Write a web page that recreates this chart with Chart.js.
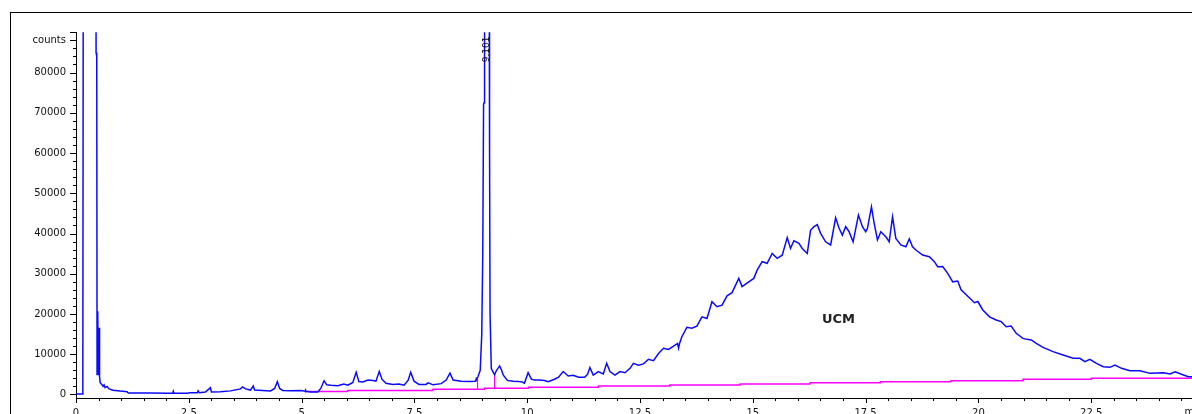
<!DOCTYPE html>
<html>
<head>
<meta charset="utf-8">
<title>Chromatogram</title>
<script src="https://cdn.jsdelivr.net/npm/chart.js@4.4.1/dist/chart.umd.min.js"></script>
<style>
  html, body { margin: 0; padding: 0; background: #fff; overflow: hidden; width: 1192px; height: 414px; }
  #frame { position: absolute; left: 10px; top: 12px; right: -40px; bottom: -40px;
           border-top: 1px solid #000; border-left: 1px solid #000; }
  #wrap { position: absolute; left: 0; top: 0; width: 1204px; height: 430px; }
</style>
</head>
<body>
<div id="frame"></div>
<div id="wrap"><canvas id="chrom" width="1204" height="430"></canvas></div>
<script>
// Detector trace: retention time (min) and signal (counts)
const retentionMin = [
  0, 0.151, 0.162, 0.440, 0.445, 0.460, 0.467, 0.482, 0.494, 0.511, 0.522, 0.534, 0.571, 0.600, 0.622, 0.645,
  0.689, 0.734, 0.823, 0.978, 1.134, 1.156, 1.423, 1.645, 2.023, 2.145, 2.157, 2.172, 2.468, 2.534, 2.690, 2.706,
  2.735, 2.868, 2.979, 3.001, 3.201, 3.424, 3.646, 3.691, 3.757, 3.868, 3.928, 3.957, 4.135, 4.313, 4.402, 4.462,
  4.513, 4.580, 4.758, 4.980, 5.091, 5.202, 5.358, 5.425, 5.498, 5.558, 5.647, 5.803, 5.936, 6.025, 6.136, 6.210,
  6.270, 6.359, 6.470, 6.581, 6.648, 6.721, 6.781, 6.870, 7.025, 7.159, 7.270, 7.359, 7.419, 7.492, 7.603, 7.759,
  7.803, 7.915, 8.093, 8.204, 8.288, 8.359, 8.537, 8.715, 8.848, 8.908, 8.959, 8.993, 9.015, 9.033, 9.044, 9.055,
  9.155, 9.166, 9.177, 9.204, 9.242, 9.278, 9.315, 9.389, 9.426, 9.471, 9.560, 9.693, 9.827, 9.871, 9.938, 10.020,
  10.093, 10.160, 10.271, 10.382, 10.465, 10.605, 10.694, 10.798, 10.909, 11.020, 11.138, 11.272, 11.338, 11.389, 11.465, 11.576,
  11.687, 11.761, 11.834, 11.945, 12.056, 12.168, 12.279, 12.354, 12.465, 12.577, 12.688, 12.799, 12.910, 13.021, 13.132, 13.244,
  13.332, 13.355, 13.377, 13.428, 13.539, 13.650, 13.761, 13.873, 13.984, 14.095, 14.206, 14.318, 14.429, 14.540, 14.689, 14.762,
  14.911, 15.022, 15.096, 15.207, 15.318, 15.429, 15.540, 15.652, 15.763, 15.836, 15.911, 16.022, 16.096, 16.207, 16.280, 16.356,
  16.429, 16.503, 16.614, 16.725, 16.836, 16.912, 16.985, 17.059, 17.134, 17.223, 17.341, 17.430, 17.503, 17.541, 17.630, 17.690,
  17.763, 17.837, 17.948, 18.023, 18.097, 18.170, 18.281, 18.393, 18.468, 18.541, 18.615, 18.764, 18.913, 19.024, 19.097, 19.209,
  19.320, 19.431, 19.542, 19.616, 19.764, 19.913, 19.987, 20.098, 20.247, 20.394, 20.505, 20.616, 20.727, 20.838, 20.987, 21.076,
  21.172, 21.283, 21.432, 21.654, 21.877, 22.099, 22.248, 22.359, 22.470, 22.617, 22.766, 22.915, 23.026, 23.173, 23.359, 23.582,
  23.804, 24.100, 24.249, 24.360, 24.544, 24.655, 24.782, 25.000
];
const signalCounts = [
  120, 150, 120000, 120000, 85000, 84000, 5000, 20700, 4800, 16600, 4500, 3000, 2500, 2000, 2400, 1700,
  2000, 1400, 1050, 850, 700, 400, 400, 350, 300, 320, 800, 320, 330, 450, 450, 900,
  450, 600, 1700, 600, 700, 900, 1400, 1900, 1400, 1100, 2100, 1100, 1000, 900, 1500, 3200,
  1500, 1000, 950, 1000, 800, 650, 600, 1500, 3400, 2400, 2300, 2200, 2600, 2300, 3000, 5500,
  3200, 3100, 3600, 3500, 3300, 5700, 3800, 2800, 2500, 2600, 2300, 3500, 5500, 3300, 2500, 2500,
  2900, 2400, 2700, 3600, 5300, 3600, 3300, 3200, 3300, 4400, 6000, 15000, 35000, 72000, 72500, 120000,
  120000, 60000, 20000, 6500, 5600, 4900, 5900, 7100, 6200, 4800, 3500, 3300, 3200, 3180, 2800, 5400,
  3800, 3600, 3600, 3500, 3200, 3800, 4300, 5700, 4600, 4800, 4300, 4300, 5000, 6700, 4800, 5700,
  5100, 7750, 5700, 4800, 5700, 5400, 6500, 7750, 7300, 7600, 8750, 8400, 10200, 11500, 11200, 12050,
  12700, 11500, 12700, 14350, 16700, 16450, 17000, 19300, 18900, 23050, 21800, 22200, 24500, 25300, 28850, 26800,
  28000, 28850, 30900, 33000, 32600, 35050, 33850, 34600, 39000, 36300, 38200, 37550, 36300, 35050, 40800, 41700,
  42200, 40050, 37950, 37150, 43900, 41300, 39600, 41700, 40450, 37950, 44600, 41700, 40450, 41300, 46650, 42550,
  38400, 40450, 39200, 37950, 44150, 38800, 37150, 36700, 38650, 36700, 35900, 34650, 34250, 33000, 31750, 31800,
  30100, 28000, 28200, 26000, 24400, 22800, 23100, 21000, 19300, 18500, 18100, 16850, 17000, 15200, 13950, 13700,
  13550, 12700, 11700, 10650, 9800, 9000, 9000, 8150, 8750, 7750, 6900, 6750, 7300, 6500, 5900, 5900,
  5250, 5400, 5100, 5650, 4850, 4400, 4400, 4300
];

// Integration baseline (stepped)
const baselineMin    = [5.09, 6.02, 7.91, 9.05, 10.03, 11.58, 13.16, 14.72, 16.27, 17.83, 19.39, 20.99, 22.50, 24.10, 25.00];
const baselineCounts = [500,  750,  1000, 1290, 1540,  1790,  2110,  2360,  2610,  2930,  3180,  3430,  3780,  4020,  4020];

// Peak drop lines (baseline up to trace)
const dropMin  = [8.90, 9.278];
const dropLow  = [1120, 1290];
const dropHigh = [4270, 4840];

// Integration start markers
const markMin  = [5.09, 8.87];
const markLow  = [550, 3180];
const markHigh = [1450, 4270];

// Axis ticks
const xTickValues = [0, 2.5, 5, 7.5, 10, 12.5, 15, 17.5, 20, 22.5];
const xTickLabels = ['0', '2.5', '5', '7.5', '10', '12.5', '15', '17.5', '20', '22.5'];
const yTickValues = [0, 10000, 20000, 30000, 40000, 50000, 60000, 70000, 80000, 88000];
const yTickLabels = ['0', '10000', '20000', '30000', '40000', '50000', '60000', '70000', '80000', 'counts'];

const peakText = '9.101';
const humpText = 'UCM';
const xUnitText = 'min';

const tracePoints = retentionMin.map((t, i) => ({ x: t, y: signalCounts[i] }));
const basePoints = baselineMin.map((t, i) => ({ x: t, y: baselineCounts[i] }));
const dropPoints = [];
dropMin.forEach((t, i) => { dropPoints.push({ x: t, y: dropLow[i] }, { x: t, y: dropHigh[i] }, { x: t, y: null }); });
const markPoints = [];
markMin.forEach((t, i) => { markPoints.push({ x: t, y: markLow[i] }, { x: t, y: markHigh[i] }, { x: t, y: null }); });

const TICK_FONT = { family: 'DejaVu Sans', size: 10 };
const LABEL_GAP_X = 9;

// Minor/major tick marks, unit label, peak and hump annotations
const decor = {
  id: 'decor',
  afterDraw(chart) {
    const { ctx, chartArea } = chart;
    const xs = chart.scales.x, ys = chart.scales.y;
    ctx.save();
    ctx.strokeStyle = '#000';
    ctx.lineWidth = 1;
    ctx.beginPath();
    for (let i = 0; i <= 50; i++) {
      const px = Math.round(xs.getPixelForValue(i * 0.5)) + 0.5;
      const len = (i % 5 === 0) ? 5 : 3;
      ctx.moveTo(px, chartArea.bottom);
      ctx.lineTo(px, chartArea.bottom + len);
    }
    for (let i = 0; i <= 45; i++) {
      const v = i * 2000;
      const py = Math.round(ys.getPixelForValue(v)) + 0.5;
      const len = (i % 5 === 0 || v === 88000) ? 6 : 3;
      ctx.moveTo(chartArea.left, py);
      ctx.lineTo(chartArea.left - len, py);
    }
    ctx.stroke();

    ctx.fillStyle = '#111';
    ctx.font = '10px "DejaVu Sans"';
    ctx.textBaseline = 'top';
    ctx.textAlign = 'left';
    ctx.fillText(xUnitText, xs.getPixelForValue(24.5) + 3, chartArea.bottom + LABEL_GAP_X);

    // retention time of the main peak, written along the peak
    ctx.save();
    ctx.translate(xs.getPixelForValue(9.105), chartArea.top + 30);
    ctx.rotate(-Math.PI / 2);
    ctx.textBaseline = 'middle';
    ctx.fillStyle = '#000';
    ctx.font = '9px "DejaVu Sans"';
    ctx.fillText(peakText, 0, 0);
    ctx.restore();

    ctx.fillStyle = '#222';
    ctx.font = 'bold 13px "DejaVu Sans"';
    ctx.textAlign = 'center';
    ctx.textBaseline = 'middle';
    ctx.fillText(humpText, xs.getPixelForValue(16.9), ys.getPixelForValue(18630));
    ctx.restore();
  }
};

new Chart(document.getElementById('chrom'), {
  type: 'line',
  data: {
    datasets: [
      { data: tracePoints, borderColor: '#0a0aff', borderWidth: 1.5, pointRadius: 0, tension: 0 },
      { data: markPoints, borderColor: '#000', borderWidth: 1, pointRadius: 0, spanGaps: false },
      { data: dropPoints, borderColor: '#ff00ff', borderWidth: 1.2, pointRadius: 0, spanGaps: false },
      { data: basePoints, borderColor: '#ff00ff', borderWidth: 1.4, pointRadius: 0, stepped: 'after' }
    ]
  },
  options: {
    responsive: false,
    animation: false,
    events: [],
    layout: { padding: { top: 32.3, left: 0, right: 0, bottom: 0 } },
    plugins: { legend: { display: false }, tooltip: { enabled: false } },
    scales: {
      x: {
        type: 'linear',
        min: 0,
        max: 25,
        grid: { display: false, drawTicks: false },
        border: { display: true, color: '#000', width: 1 },
        afterBuildTicks: (scale) => { scale.ticks = xTickValues.map(v => ({ value: v })); },
        afterFit: (scale) => { scale.height = 32; },
        ticks: {
          autoSkip: false, maxRotation: 0, padding: LABEL_GAP_X, color: '#111', font: TICK_FONT,
          callback: (v, i) => xTickLabels[i]
        }
      },
      y: {
        min: -870,
        max: 90000,
        grid: { display: false, drawTicks: false },
        border: { display: true, color: '#000', width: 1 },
        afterBuildTicks: (scale) => { scale.ticks = yTickValues.map(v => ({ value: v })); },
        afterFit: (scale) => { scale.width = 76; },
        ticks: {
          autoSkip: false, padding: 10, color: '#111', font: TICK_FONT,
          callback: (v, i) => yTickLabels[i]
        }
      }
    }
  },
  plugins: [decor]
});
</script>
</body>
</html>
